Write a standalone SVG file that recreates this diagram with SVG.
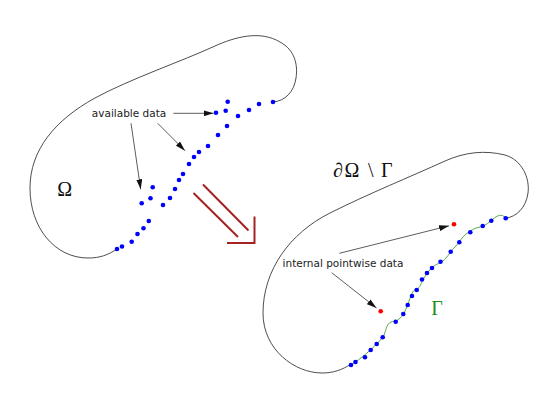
<svg xmlns="http://www.w3.org/2000/svg" width="560" height="420" viewBox="0 0 560 420">
<defs>
<style>
.bd{fill:none;stroke:#3a3a3a;stroke-width:0.9}
.gm{fill:none;stroke:#5aaa4a;stroke-width:1}
.b{fill:#0000ff}
.r{fill:#ff0000}
.lbl{font-family:"DejaVu Sans",sans-serif;font-size:10.5px;fill:#222}
.mth{font-family:"Liberation Serif","DejaVu Serif",serif;font-size:20px;fill:#111}
.ar{fill:none;stroke:#333;stroke-width:0.8;marker-end:url(#ah)}
.big{fill:none;stroke:#a52222;stroke-width:2}
</style>
<marker id="ah" viewBox="0 0 10 6" refX="10" refY="3" markerWidth="10" markerHeight="6" markerUnits="userSpaceOnUse" orient="auto">
<path d="M0,0 L10,3 L0,6 z" fill="#111"/>
</marker>
</defs>
<rect width="560" height="420" fill="#fff"/>

<g id="domain-left">
<path class="bd" d="M117,249 C108,255 100,258 88,258 C55,258 30,228 30,188 C30,150 55,120 95,98 C130,79 180,62 215,46 C235,37 260,30 280,42 C295,50 298,65 296,78 C294,92 285,101 273,102"/>
<g id="data-left">
<circle class="b" cx="117" cy="249" r="2.3"/>
<circle class="b" cx="122" cy="246.5" r="2.3"/>
<circle class="b" cx="131.7" cy="241.7" r="2.3"/>
<circle class="b" cx="137.5" cy="234" r="2.3"/>
<circle class="b" cx="143.5" cy="228.3" r="2.3"/>
<circle class="b" cx="148.8" cy="221" r="2.3"/>
<circle class="b" cx="163" cy="205" r="2.3"/>
<circle class="b" cx="170" cy="198" r="2.3"/>
<circle class="b" cx="175" cy="189" r="2.3"/>
<circle class="b" cx="179" cy="180" r="2.3"/>
<circle class="b" cx="183" cy="174" r="2.3"/>
<circle class="b" cx="189" cy="164" r="2.3"/>
<circle class="b" cx="194" cy="157" r="2.3"/>
<circle class="b" cx="199" cy="152" r="2.3"/>
<circle class="b" cx="208" cy="146" r="2.3"/>
<circle class="b" cx="218" cy="135" r="2.3"/>
<circle class="b" cx="227" cy="126" r="2.3"/>
<circle class="b" cx="238" cy="116" r="2.3"/>
<circle class="b" cx="249" cy="110" r="2.3"/>
<circle class="b" cx="259" cy="104" r="2.3"/>
<circle class="b" cx="273" cy="102" r="2.3"/>
<circle class="b" cx="141.7" cy="203.3" r="2.3"/>
<circle class="b" cx="150.5" cy="198.3" r="2.3"/>
<circle class="b" cx="152.7" cy="187.3" r="2.3"/>
<circle class="b" cx="216" cy="112.7" r="2.3"/>
<circle class="b" cx="225.7" cy="110.7" r="2.3"/>
<circle class="b" cx="227.7" cy="101.7" r="2.3"/>
</g>
<text class="mth" x="64.7" y="196" text-anchor="middle">Ω</text>
<text id="lbl-available" class="lbl" x="129" y="116.5" text-anchor="middle">available data</text>
</g>

<g id="implication">
<line class="big" x1="203" y1="184.5" x2="248.5" y2="230.5"/>
<line class="big" x1="193.5" y1="193" x2="238" y2="237"/>
<polyline class="big" points="227,243 254.5,243 254.5,216.5"/>
</g>

<g id="domain-right">
<path class="bd" d="M351,364 C342,370 333,373 322,373 C295,373 263,350 263,313 C263,270 290,233 330,213 C370,193 410,177 445,161 C465,152 485,150 505,155 C522,160 530,178 528,193 C526,208 516,217 506,218"/>
<path id="gamma" class="gm" d="M351,365 C360,359 372,350 383,337 C386,332 386,324 391,322 C393,321 394,322 396,321 C402,318 405,312 408,304 C411,296 412,290 417,289 C420,288 421,283 424,278 C427,273 430,269 434,266 C438,263 442,263 446,258 C449,255 451,250 455,247 C459,243 462,237 466,234 C470,231 474,228 480,227 C486,226 489,222 493,219 C497,216 501,213 506,218"/>
<g id="data-right">
<circle class="b" cx="351" cy="365" r="2.3"/>
<circle class="b" cx="355.5" cy="362" r="2.3"/>
<circle class="b" cx="365" cy="357.3" r="2.3"/>
<circle class="b" cx="370.7" cy="350" r="2.3"/>
<circle class="b" cx="376.7" cy="344" r="2.3"/>
<circle class="b" cx="382.7" cy="337.3" r="2.3"/>
<circle class="b" cx="395.7" cy="321.7" r="2.3"/>
<circle class="b" cx="403.3" cy="314" r="2.3"/>
<circle class="b" cx="407.7" cy="305" r="2.3"/>
<circle class="b" cx="412" cy="296" r="2.3"/>
<circle class="b" cx="416.7" cy="290" r="2.3"/>
<circle class="b" cx="422" cy="279.5" r="2.3"/>
<circle class="b" cx="427" cy="273" r="2.3"/>
<circle class="b" cx="432" cy="268" r="2.3"/>
<circle class="b" cx="440.5" cy="261.8" r="2.3"/>
<circle class="b" cx="450.7" cy="251.7" r="2.3"/>
<circle class="b" cx="459.3" cy="242.3" r="2.3"/>
<circle class="b" cx="470.3" cy="232.3" r="2.3"/>
<circle class="b" cx="482.7" cy="226" r="2.3"/>
<circle class="b" cx="491.3" cy="220.7" r="2.3"/>
<circle class="b" cx="505.7" cy="218.3" r="2.3"/>
</g>
<circle id="pt1" class="r" cx="454" cy="224.3" r="2.3"/>
<circle id="pt2" class="r" cx="380.7" cy="311.3" r="2.3"/>
<text class="mth" x="333" y="176.5">∂<tspan x="344.5">Ω</tspan><tspan x="368">\</tspan><tspan x="381">Γ</tspan></text>
<text class="mth" x="437" y="315" text-anchor="middle" style="fill:#228b22">Γ</text>
<text id="lbl-internal" class="lbl" x="343" y="267.3" text-anchor="middle">internal pointwise data</text>
</g>

<g id="connectors">
<line class="ar" x1="173.3" y1="113.3" x2="213.5" y2="113.3"/>
<line class="ar" x1="131" y1="123.3" x2="140.7" y2="189.3"/>
<line class="ar" x1="157.7" y1="123.3" x2="185" y2="150.7"/>
<line class="ar" x1="339.3" y1="253.3" x2="449" y2="225.8"/>
<line class="ar" x1="331.7" y1="272.7" x2="376.5" y2="308"/>
</g>
</svg>
